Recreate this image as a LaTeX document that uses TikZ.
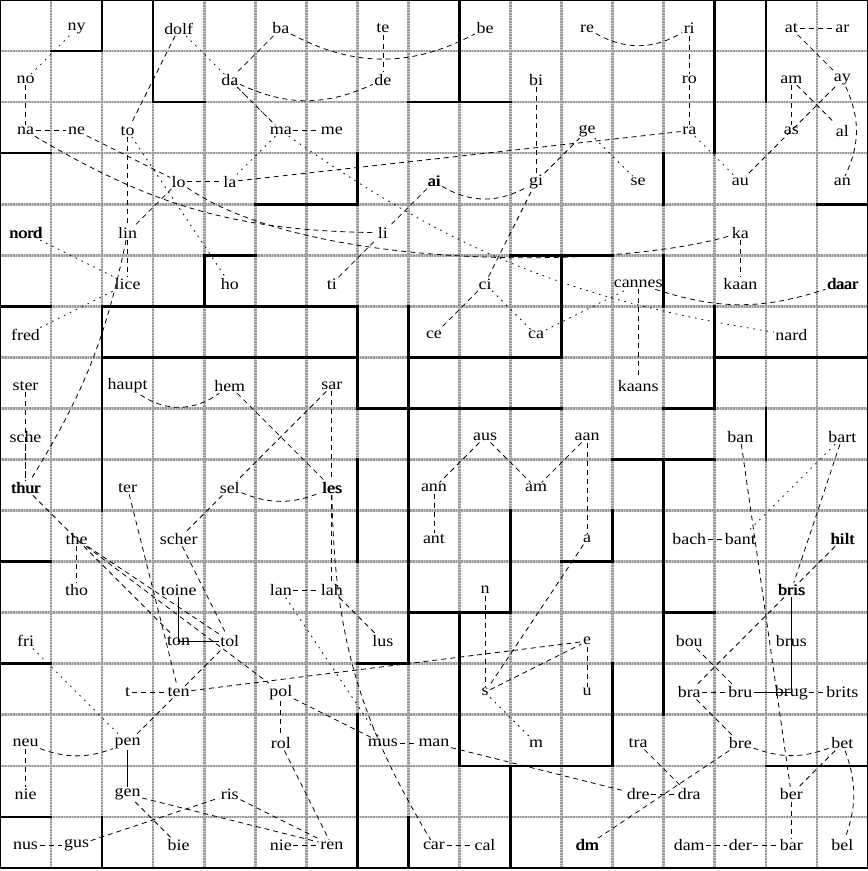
\documentclass[tikz,border=0pt]{standalone}
\usepackage{fontspec}
\setmainfont{Liberation Serif}[FakeStretch=1.12]
\newcommand\cn[4]{\node[lbl] (N#1) at ({#2+0.5},{16.5-#3}) {#4};}
\newcommand\cnb[4]{\node[lbl] (N#1) at ({#2+0.5},{16.5-#3}) {#4};\node[lbl,xshift=0.8pt] at ({#2+0.5},{16.5-#3}) {#4};}
\tikzset{
  lbl/.style={inner sep=1.5pt, yshift=-3pt, font=\fontsize{16}{16}\selectfont},
  gridb/.style={line width=2.6pt, draw=gray!40},
  gridl/.style={line width=2.6pt, draw=gray!80, dash pattern=on 0.8pt off 0.8pt},
  wall/.style={line width=2.6pt, draw=black, line cap=rect},
  ds/.style={line width=0.8pt, dash pattern=on 5pt off 4pt},
  dt/.style={line width=0.8pt, dash pattern=on 1.6pt off 5pt},
  sl/.style={line width=0.8pt}
}
\begin{document}
\begin{tikzpicture}[x=51.06pt,y=51.06pt]
\useasboundingbox (0,-0.06) rectangle (17,17);
\fill[white] (0,-0.06) rectangle (17,17);
% grid
\foreach \i in {1,...,16} {\draw[gridb] (\i,0) -- (\i,17); \draw[gridb] (0,\i) -- (17,\i);}
\foreach \i in {1,...,16} {\draw[gridl] (\i,0) -- (\i,17); \draw[gridl] (0,\i) -- (17,\i);}
% walls vertical: i, j1, j2 (j from top)
\foreach \i/\a/\b in {2/0/1,3/0/2,9/0/2,14/0/3,15/0/2,7/3/4,13/3/4,2/6/10,4/5/6,11/5/7,13/5/6,7/6/8,8/6/13,14/6/8,15/8/9,7/9/11,13/9/14,12/10/11,10/10/12,9/12/15,12/13/15,7/14/17,8/16/17,10/15/17,2/16/17}
  {\draw[wall] (\i,17-\a) -- (\i,17-\b);}
% walls horizontal: j, i1, i2
\foreach \j/\a/\b in {1/1/2,2/3/4,2/8/10,3/0/1,4/5/7,4/16/17,5/4/5,5/10/12,6/0/1,6/2/7,7/2/7,7/8/11,7/14/17,8/7/11,8/13/14,9/12/14,11/0/1,11/11/12,12/8/10,12/13/14,13/0/1,13/7/8,15/9/12,15/15/17,16/0/1}
  {\draw[wall] (\a,17-\j) -- (\b,17-\j);}
\draw[line width=1.5pt] (0,0) rectangle (17,17);
% nodes
\cn{ny}{1}{0}{ny}\cn{dolf}{3}{0}{dolf}\cn{ba}{5}{0}{ba}\cn{te}{7}{0}{te}\cn{be}{9}{0}{be}\cn{re}{11}{0}{re}\cn{ri}{13}{0}{ri}\cn{at}{15}{0}{at}\cn{ar}{16}{0}{ar}
\cn{no}{0}{1}{no}\cn{da}{4}{1}{da}\cn{de}{7}{1}{de}\cn{bi}{10}{1}{bi}\cn{ro}{13}{1}{ro}\cn{am}{15}{1}{am}\cn{ay}{16}{1}{ay}
\cn{na}{0}{2}{na}\cn{ne}{1}{2}{ne}\cn{to}{2}{2}{to}\cn{ma}{5}{2}{ma}\cn{me}{6}{2}{me}\cn{ge}{11}{2}{ge}\cn{ra}{13}{2}{ra}\cn{as}{15}{2}{as}\cn{al}{16}{2}{al}
\cn{lo}{3}{3}{lo}\cn{la}{4}{3}{la}\cnb{ai}{8}{3}{ai}\cn{gi}{10}{3}{gi}\cn{se}{12}{3}{se}\cn{au}{14}{3}{au}\cn{an}{16}{3}{an}
\cnb{nord}{0}{4}{nord}\cn{lin}{2}{4}{lin}\cn{li}{7}{4}{li}\cn{ka}{14}{4}{ka}
\cn{lice}{2}{5}{lice}\cn{ho}{4}{5}{ho}\cn{ti}{6}{5}{ti}\cn{ci}{9}{5}{ci}\cn{cannes}{12}{5}{cannes}\cn{kaan}{14}{5}{kaan}\cnb{daar}{16}{5}{daar}
\cn{fred}{0}{6}{fred}\cn{ce}{8}{6}{ce}\cn{ca}{10}{6}{ca}\cn{nard}{15}{6}{nard}
\cn{ster}{0}{7}{ster}\cn{haupt}{2}{7}{haupt}\cn{hem}{4}{7}{hem}\cn{sar}{6}{7}{sar}\cn{kaans}{12}{7}{kaans}
\cn{sche}{0}{8}{sche}\cn{aus}{9}{8}{aus}\cn{aan}{11}{8}{aan}\cn{ban}{14}{8}{ban}\cn{bart}{16}{8}{bart}
\cnb{thur}{0}{9}{thur}\cn{ter}{2}{9}{ter}\cn{sel}{4}{9}{sel}\cnb{les}{6}{9}{les}\cn{ann}{8}{9}{ann}\cn{amb}{10}{9}{am}
\cn{the}{1}{10}{the}\cn{scher}{3}{10}{scher}\cn{ant}{8}{10}{ant}\cn{a}{11}{10}{a}\cn{bach}{13}{10}{bach}\cn{bant}{14}{10}{bant}\cnb{hilt}{16}{10}{hilt}
\cn{tho}{1}{11}{tho}\cn{toine}{3}{11}{toine}\cn{lan}{5}{11}{lan}\cn{lah}{6}{11}{lah}\cn{n}{9}{11}{n}\cnb{bris}{15}{11}{bris}
\cn{fri}{0}{12}{fri}\cn{ton}{3}{12}{ton}\cn{tol}{4}{12}{tol}\cn{lus}{7}{12}{lus}\cn{e}{11}{12}{e}\cn{bou}{13}{12}{bou}\cn{brus}{15}{12}{brus}
\cn{t}{2}{13}{t}\cn{ten}{3}{13}{ten}\cn{pol}{5}{13}{pol}\cn{s}{9}{13}{s}\cn{u}{11}{13}{u}\cn{bra}{13}{13}{bra}\cn{bru}{14}{13}{bru}\cn{brug}{15}{13}{brug}\cn{brits}{16}{13}{brits}
\cn{neu}{0}{14}{neu}\cn{pen}{2}{14}{pen}\cn{rol}{5}{14}{rol}\cn{mus}{7}{14}{mus}\cn{man}{8}{14}{man}\cn{m}{10}{14}{m}\cn{tra}{12}{14}{tra}\cn{bre}{14}{14}{bre}\cn{bet}{16}{14}{bet}
\cn{nie}{0}{15}{nie}\cn{gen}{2}{15}{gen}\cn{ris}{4}{15}{ris}\cn{dre}{12}{15}{dre}\cn{dra}{13}{15}{dra}\cn{ber}{15}{15}{ber}
\cn{nus}{0}{16}{nus}\cn{gus}{1}{16}{gus}\cn{bie}{3}{16}{bie}\cn{nieb}{5}{16}{nie}\cn{ren}{6}{16}{ren}\cn{car}{8}{16}{car}\cn{cal}{9}{16}{cal}\cnb{dm}{11}{16}{dm}\cn{dam}{13}{16}{dam}\cn{der}{14}{16}{der}\cn{bar}{15}{16}{bar}\cn{bel}{16}{16}{bel}
% dotted edges
\foreach \p/\q in {ny/no,dolf/ma,ra/au,ge/se,ma/la,ci/ca,ca/cannes,nord/lice,fred/lice,to/ho,fri/pen,bart/bant,lan/mus,s/m}
  {\draw[dt] (N\p) -- (N\q);}
\draw[dt] (Nma) to[bend right=13] (Nnard);
% dashed straight edges
\foreach \p/\q in {dolf/to,ba/da,te/de,da/ma,ma/me,no/na,na/ne,ri/ro,ro/ra,at/ar,at/ay,am/as,am/al,ay/au,la/ra,gi/ge,bi/gi,ai/li,lo/la,to/lin,lin/lice,lo/lin,ne/lo,ti/li,ci/gi,ci/ce,cannes/kaans,ka/kaan,hem/les,sar/sel,sar/les,sel/scher,les/lah,ter/ten,ster/thur,sche/thur,the/tho,scher/tol,lan/lah,lah/lus,t/ten,ten/tol,ten/pen,ten/e,neu/nie,gen/bie,gen/ren,gus/ris,nus/gus,ris/ren,pol/rol,rol/ren,nieb/ren,mus/man,car/cal,aus/ann,aus/amb,aan/amb,ann/ant,aan/a,a/s,n/s,s/e,e/u,bach/bant,ban/ber,ber/bar,bart/bris,hilt/bris,bris/bra,bou/bru,bra/bru,brug/brits,bra/bre,bet/ber,tra/dra,dre/dra,man/dre,bre/dm,dam/der,der/bar,pol/mus,thur/ton,the/tol,the/pol}
  {\draw[ds] (N\p) -- (N\q);}
% dashed curved edges
\draw[ds] (Nba) to[bend right=28] (Nbe);
\draw[ds] (Nda) to[bend right=25] (Nde);
\draw[ds] (Nre) to[bend right=30] (Nri);
\draw[ds] (Nai) to[bend right=30] (Ngi);
\draw[ds] (Nay) to[bend left=25] (Nan);
\draw[ds] (Nna) to[bend right=15] (Nli);
\draw[ds] (Nlo) .. controls (6,11.7) and (12,11.7) .. (Nka);
\draw[ds] (Ncannes) to[bend right=18] (Ndaar);
\draw[ds] (Nlin) to[bend left=10] (Nthur);
\draw[ds] (Nhaupt) to[bend right=35] (Nhem);
\draw[ds] (Nsel) to[bend right=22] (Nles);
\draw[ds] (Nles) to[bend right=15] (Ncar);
\draw[ds] (Nneu) to[bend right=20] (Npen);
\draw[ds] (Nbre) to[bend right=20] (Nbet);
\draw[ds] (Nbet) to[bend left=20] (Nbel);
% solid edges
\draw[sl] (Ntoine.south) |- (Ntol.west);
\draw[sl] (Nbris.south) |- (Nbru.east);
\draw[sl] (Npen) -- (Ngen);
\end{tikzpicture}
\end{document}
